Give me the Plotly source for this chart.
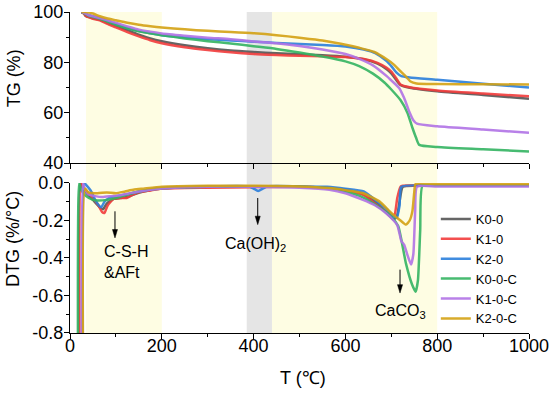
import plotly.graph_objects as go

# ---------------- data ----------------
names = ["K0-0", "K1-0", "K2-0", "K0-0-C", "K1-0-C", "K2-0-C"]
colors = ["#555555", "#f23c3c", "#2b7fdc", "#34b462", "#b173e6", "#d4a214"]

# TG (%)
tg_T_k00 = [25, 30, 35, 50, 65, 80, 100, 125, 150, 175, 200, 250, 300, 350, 400, 450, 500, 550, 600, 640, 670, 690, 700, 710, 720, 740, 800, 900, 1000]
tg_k00 = [100, 99.5, 98.3, 97.6, 96.9, 95.8, 94.5, 92.8, 91.0, 89.5, 88.4, 86.8, 85.6, 84.7, 84.1, 83.6, 83.2, 82.8, 82.2, 81.2, 79.5, 77.3, 75.6, 73.2, 71.0, 69.9, 68.5, 67.0, 65.5]
tg_T_k10 = [25, 30, 35, 50, 65, 80, 100, 125, 150, 175, 200, 250, 300, 350, 400, 450, 500, 550, 600, 640, 670, 690, 700, 710, 720, 740, 800, 900, 1000]
tg_k10 = [100, 99.4, 98.4, 97.3, 96.7, 95.4, 93.9, 92.0, 90.3, 88.8, 87.6, 86.0, 84.9, 84.0, 83.3, 82.9, 82.6, 82.4, 82.1, 81.3, 79.8, 77.8, 76.3, 73.9, 71.2, 70.1, 68.8, 67.6, 66.5]
tg_T_k20 = [25, 30, 40, 50, 65, 80, 100, 125, 150, 175, 200, 250, 300, 350, 400, 450, 500, 550, 600, 640, 665, 690, 700, 712, 722, 740, 800, 900, 1000]
tg_k20 = [100, 99.7, 98.8, 98.3, 97.5, 96.5, 95.2, 93.6, 92.4, 91.5, 90.8, 89.9, 89.2, 88.7, 88.2, 87.7, 87.3, 86.9, 86.3, 85.1, 83.7, 80.5, 78.5, 75.8, 74.5, 74.0, 73.1, 71.5, 70.0]
tg_T_k00c = [25, 30, 40, 50, 65, 80, 100, 125, 150, 175, 200, 250, 300, 350, 400, 450, 500, 550, 600, 630, 660, 685, 700, 720, 735, 746, 754, 761, 800, 900, 1000]
tg_k00c = [100, 99.6, 98.6, 98.0, 97.3, 96.3, 94.9, 93.5, 92.3, 91.5, 90.8, 89.5, 88.4, 87.5, 86.4, 85.3, 83.9, 82.3, 80.4, 78.5, 75.5, 72.0, 69.2, 65.0, 60.0, 54.0, 50.0, 47.2, 46.4, 45.5, 44.6]
tg_T_k10c = [25, 30, 40, 50, 65, 80, 100, 125, 150, 175, 200, 250, 300, 350, 400, 450, 500, 550, 600, 630, 660, 690, 700, 717, 728, 739, 748, 756, 800, 900, 1000]
tg_k10c = [100, 99.7, 98.8, 98.3, 97.6, 96.8, 95.7, 94.3, 93.0, 92.2, 91.5, 90.6, 89.8, 89.2, 88.3, 87.6, 86.5, 85.1, 83.3, 81.4, 78.8, 74.5, 72.8, 69.8, 65.8, 60.5, 57.0, 55.6, 54.6, 53.3, 52.0]
tg_T_k20c = [25, 35, 50, 65, 80, 100, 125, 150, 175, 200, 250, 300, 350, 400, 450, 500, 550, 590, 630, 663, 690, 705, 717, 730, 742, 755, 800, 900, 1000]
tg_k20c = [100, 100, 99.4, 98.3, 97.5, 96.7, 95.7, 94.9, 94.3, 93.8, 93.1, 92.5, 92.1, 91.6, 90.8, 89.8, 88.7, 87.4, 85.8, 84.1, 81.2, 79.2, 77.0, 74.7, 72.4, 71.6, 71.4, 71.3, 71.2]

# DTG (%/°C)
dtg_T_k00 = [21, 22, 26, 35, 50, 65, 72, 80, 95, 110, 125, 140, 160, 200, 300, 400, 500, 560, 600, 640, 670, 690, 705, 712, 718, 725, 760, 850, 1000]
dtg_k00 = [-2.0, 0.0, -0.02, -0.05, -0.09, -0.13, -0.14, -0.11, -0.085, -0.08, -0.075, -0.06, -0.045, -0.03, -0.02, -0.02, -0.02, -0.025, -0.035, -0.06, -0.11, -0.16, -0.195, -0.18, -0.1, -0.02, -0.015, -0.015, -0.015]
dtg_T_k10 = [23, 24, 28, 35, 50, 62, 70, 75, 82, 95, 110, 123, 135, 150, 175, 200, 300, 400, 500, 560, 600, 640, 670, 690, 700, 707, 713, 720, 725, 800, 1000]
dtg_k10 = [-2.0, 0.0, -0.02, -0.04, -0.08, -0.12, -0.155, -0.16, -0.12, -0.085, -0.08, -0.08, -0.065, -0.05, -0.04, -0.03, -0.025, -0.022, -0.02, -0.027, -0.04, -0.065, -0.12, -0.155, -0.175, -0.17, -0.08, -0.02, -0.015, -0.015, -0.015]
dtg_T_k20 = [30, 31, 35, 45, 55, 63, 68, 75, 85, 100, 125, 150, 200, 300, 390, 400, 410, 420, 430, 500, 560, 600, 640, 670, 690, 705, 712, 718, 722, 800, 1000]
dtg_k20 = [-2.0, 0.0, -0.01, -0.04, -0.09, -0.12, -0.13, -0.1, -0.08, -0.07, -0.06, -0.045, -0.025, -0.018, -0.018, -0.03, -0.042, -0.03, -0.018, -0.018, -0.02, -0.03, -0.045, -0.1, -0.14, -0.18, -0.185, -0.12, -0.02, -0.015, -0.015]
dtg_T_k00c = [19, 20, 25, 35, 50, 60, 80, 100, 120, 150, 200, 300, 400, 500, 565, 600, 637, 674, 700, 715, 732, 745, 753, 758, 763, 768, 800, 1000]
dtg_k00c = [-2.0, 0.0, -0.04, -0.07, -0.09, -0.093, -0.09, -0.08, -0.065, -0.045, -0.028, -0.02, -0.018, -0.02, -0.03, -0.045, -0.075, -0.13, -0.18, -0.23, -0.43, -0.54, -0.58, -0.52, -0.25, -0.015, -0.015, -0.015]
dtg_T_k10c = [27, 28, 32, 40, 55, 70, 90, 110, 130, 150, 200, 300, 400, 500, 565, 600, 637, 665, 688, 705, 713, 718, 722, 728, 736, 743, 748, 752, 756, 800, 1000]
dtg_k10c = [-2.0, 0.0, -0.03, -0.06, -0.07, -0.075, -0.07, -0.065, -0.055, -0.045, -0.03, -0.02, -0.02, -0.025, -0.036, -0.055, -0.089, -0.12, -0.16, -0.2, -0.225, -0.27, -0.31, -0.33, -0.39, -0.435, -0.38, -0.15, -0.02, -0.018, -0.018]
dtg_T_k20c = [32, 33, 40, 60, 80, 100, 120, 140, 160, 200, 300, 400, 500, 565, 600, 637, 674, 700, 720, 732, 740, 746, 750, 753, 800, 1000]
dtg_k20c = [-2.0, -0.03, -0.05, -0.055, -0.05, -0.055, -0.045, -0.035, -0.03, -0.02, -0.015, -0.015, -0.018, -0.027, -0.038, -0.053, -0.098, -0.16, -0.2, -0.222, -0.2, -0.15, -0.05, -0.005, -0.005, -0.005]

tg_T = [tg_T_k00, tg_T_k10, tg_T_k20, tg_T_k00c, tg_T_k10c, tg_T_k20c]
tg_V = [tg_k00, tg_k10, tg_k20, tg_k00c, tg_k10c, tg_k20c]
dtg_T = [dtg_T_k00, dtg_T_k10, dtg_T_k20, dtg_T_k00c, dtg_T_k10c, dtg_T_k20c]
dtg_V = [dtg_k00, dtg_k10, dtg_k20, dtg_k00c, dtg_k10c, dtg_k20c]

x_ticks = [0, 200, 400, 600, 800, 1000]
tg_ticks = [40, 60, 80, 100]
dtg_ticks = [-0.8, -0.6, -0.4, -0.2, 0.0]
dtg_ticktext = ["-0.8", "-0.6", "-0.4", "-0.2", "0.0"]

yellow_bands = [(35, 200), (440, 800)]
gray_bands = [(385, 440)]

# annotation arrows: (T, tail DTG, tip DTG)
arrows = [(98, -0.151, -0.293), (409, -0.08, -0.222), (719, -0.462, -0.587)]

# ---------------- figure ----------------
FONT = "Arial, 'Liberation Sans', sans-serif"
fig = go.Figure()

for i, n in enumerate(names):
    fig.add_trace(go.Scatter(x=tg_T[i], y=tg_V[i], mode="lines", name=n,
                             line=dict(color=colors[i], width=2.5, shape="spline", smoothing=0.6),
                             opacity=0.9, showlegend=False, xaxis="x2", yaxis="y2"))
for i, n in enumerate(names):
    fig.add_trace(go.Scatter(x=dtg_T[i], y=dtg_V[i], mode="lines", name=n,
                             line=dict(color=colors[i], width=2.5, shape="spline", smoothing=0.5),
                             opacity=0.9, showlegend=True, xaxis="x", yaxis="y"))

shapes = []
for a, b in yellow_bands:
    shapes.append(dict(type="rect", xref="x", yref="paper", x0=a, x1=b, y0=0, y1=1,
                       fillcolor="#fefde3", line=dict(width=0), layer="below"))
for a, b in gray_bands:
    shapes.append(dict(type="rect", xref="x", yref="paper", x0=a, x1=b, y0=0, y1=1,
                       fillcolor="#e5e5e5", line=dict(width=0), layer="below"))
# arrow shafts and heads
hw, hh = 5.5, 0.045
for t, y0, y1 in arrows:
    shapes.append(dict(type="line", xref="x", yref="y", x0=t, x1=t, y0=y0, y1=y1 + hh * 0.5,
                       line=dict(color="black", width=1)))
    shapes.append(dict(type="path", xref="x", yref="y",
                       path=f"M {t - hw},{y1 + hh} L {t + hw},{y1 + hh} L {t},{y1} Z",
                       fillcolor="black", line=dict(color="black", width=0.5)))

axis_common = dict(showline=True, linecolor="black", linewidth=1.3, ticks="outside",
                   ticklen=5, tickwidth=1.3, tickcolor="black", showgrid=False, zeroline=False,
                   mirror=False, automargin=False)

top_dom = [0.5296, 1.0]
bot_dom = [0.0, 0.4673]

fig.update_layout(
    width=550, height=393,
    margin=dict(l=70, r=21, t=12, b=60),
    paper_bgcolor="white", plot_bgcolor="rgba(0,0,0,0)",
    font=dict(family=FONT, size=18, color="black"),
    shapes=shapes,
    xaxis=dict(domain=[0, 1], range=[0, 1000], anchor="y", tickvals=x_ticks,
               ticklabeloverflow="allow", ticklabelstandoff=-9,
               minor=dict(ticks="outside", ticklen=3, tickwidth=1.3, dtick=100, tick0=0, tickcolor="black"),
               **axis_common),
    yaxis=dict(domain=bot_dom, range=[-0.8, 0.0], anchor="x", tickvals=dtg_ticks, ticktext=dtg_ticktext,
               ticklabelstandoff=-3, ticklabeloverflow="allow",
               minor=dict(ticks="outside", ticklen=3, tickwidth=1.3, tickvals=[-0.7, -0.5, -0.3, -0.1], tickcolor="black"),
               **axis_common),
    xaxis2=dict(domain=[0, 1], range=[0, 1000], anchor="y2", tickvals=x_ticks, showticklabels=False,
                matches="x",
                minor=dict(ticks="outside", ticklen=3, tickwidth=1.3, dtick=100, tick0=0, tickcolor="black"),
                **axis_common),
    yaxis2=dict(domain=top_dom, range=[40, 100], anchor="x2", tickvals=tg_ticks,
                ticklabelstandoff=-3, ticklabeloverflow="allow",
                minor=dict(ticks="outside", ticklen=3, tickwidth=1.3, tickvals=[50, 70, 90], tickcolor="black"),
                **axis_common),
    legend=dict(x=0.797, y=0.402, xanchor="left", yanchor="top", bgcolor="rgba(0,0,0,0)",
                font=dict(size=13), tracegroupgap=0, itemwidth=30),
)

ann = [
    # axis titles
    dict(x=-0.12, y=0.793, xref="paper", yref="paper", text="TG (%)", textangle=-90,
         showarrow=False, xanchor="center", yanchor="middle", font=dict(size=18)),
    dict(x=-0.124, y=0.293, xref="paper", yref="paper", text="DTG (%/°C)", textangle=-90,
         showarrow=False, xanchor="center", yanchor="middle", font=dict(size=18)),
    dict(x=0.507, y=-0.14, xref="paper", yref="paper", text="T (℃)",
         showarrow=False, xanchor="center", yanchor="middle", font=dict(size=18)),
    # peak labels
    dict(x=69, y=-0.42, xref="x", yref="y", text="C-S-H<br>&amp;AFt", showarrow=False,
         xanchor="left", align="left", font=dict(size=16)),
    dict(x=404, y=-0.33, xref="x", yref="y", text="Ca(OH)<sub>2</sub>", showarrow=False,
         font=dict(size=16)),
    dict(x=720, y=-0.685, xref="x", yref="y", text="CaCO<sub>3</sub>", showarrow=False,
         font=dict(size=16)),
]
fig.update_layout(annotations=ann)

fig.write_html("out.html", config={"displayModeBar": False},
               post_script="document.body.style.margin='0px';")
